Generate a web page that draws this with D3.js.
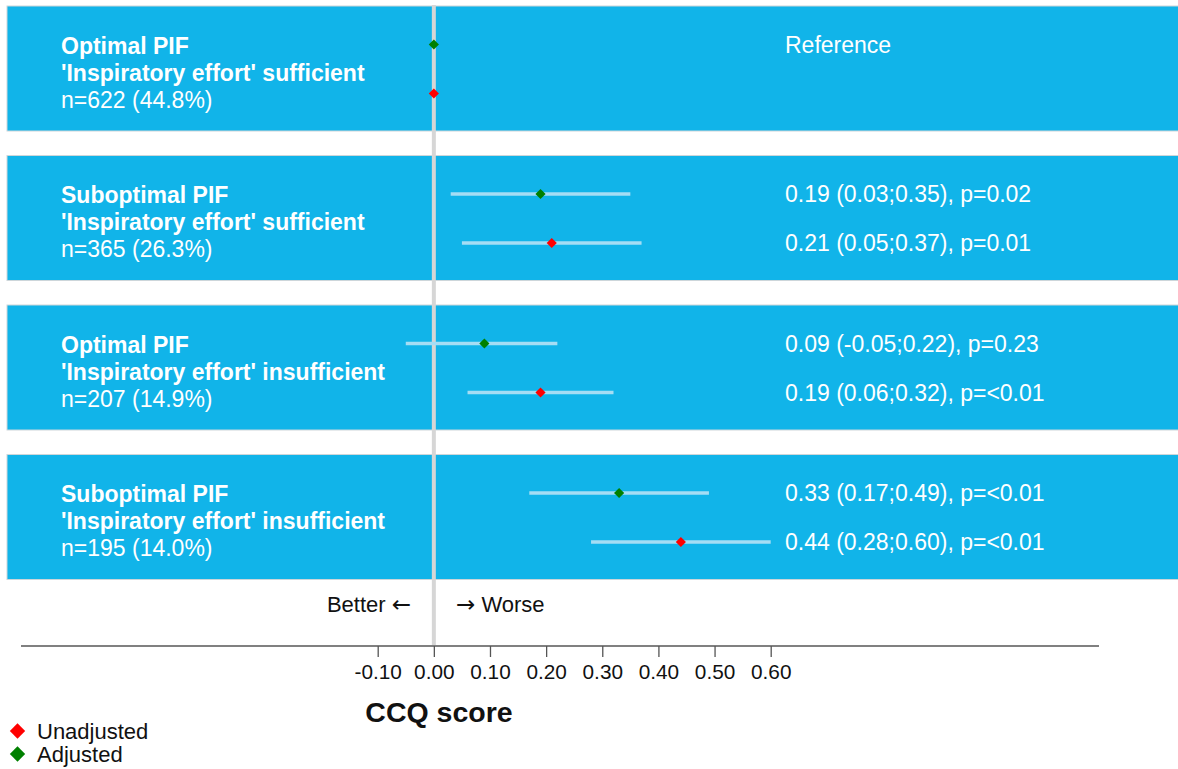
<!DOCTYPE html>
<html><head><meta charset="utf-8">
<script src="https://cdn.jsdelivr.net/npm/d3@7"></script>
<style>body{margin:0;background:#fff;} text{font-family:"Liberation Sans",Arial,Helvetica,sans-serif;}</style>
</head><body>
<svg id="c" width="1178" height="769"></svg>
<script>
const groups = ["g1","g2","g3","g4"];
const groupTitle1 = ["Optimal PIF","Suboptimal PIF","Optimal PIF","Suboptimal PIF"];
const groupTitle2 = ["'Inspiratory effort' sufficient","'Inspiratory effort' sufficient","'Inspiratory effort' insufficient","'Inspiratory effort' insufficient"];
const groupN = ["n=622 (44.8%)","n=365 (26.3%)","n=207 (14.9%)","n=195 (14.0%)"];
const adjEst = [0, 0.19, 0.09, 0.33];
const adjLo  = [null, 0.03, -0.05, 0.17];
const adjHi  = [null, 0.35, 0.22, 0.49];
const adjP   = [null, "0.02", "0.23", "<0.01"];
const unadjEst = [0, 0.21, 0.19, 0.44];
const unadjLo  = [null, 0.05, 0.06, 0.28];
const unadjHi  = [null, 0.37, 0.32, 0.60];
const unadjP   = [null, "0.01", "<0.01", "<0.01"];
const tickValues = [-0.10,0,0.10,0.20,0.30,0.40,0.50,0.60];
const axisTitle = "CCQ score";
const legendLabels = ["Unadjusted","Adjusted"];
const legendColors = ["#ff0000","#008000"];

const svg = d3.select("#c");
const x = d3.scaleLinear().domain([-0.1,0.6]).range([377.7,770.7]);
const y = d3.scaleBand().domain(groups).range([6,579.5]).paddingInner(24.5/149.5).paddingOuter(0);
const mid = g => y(g)+y.bandwidth()/2 + 0.5;
const fmt = v => v.toFixed(2);
const FS = 23;

// panels
svg.selectAll("rect.panel").data(groups).join("rect")
  .attr("x",7).attr("y",d=>y(d)).attr("width",1180).attr("height",y.bandwidth())
  .attr("fill","#11b4e9").attr("stroke","#cdd6da").attr("stroke-width",1);

// reference line
svg.append("line").attr("x1",x(0)).attr("x2",x(0)).attr("y1",5).attr("y2",645)
  .attr("stroke","#d6d6d6").attr("stroke-width",4);

const rows = [];
groups.forEach((g,i)=>{
  rows.push({g,i,kind:"adj",est:adjEst[i],lo:adjLo[i],hi:adjHi[i],p:adjP[i],col:legendColors[1],dy:-24.5});
  rows.push({g,i,kind:"un",est:unadjEst[i],lo:unadjLo[i],hi:unadjHi[i],p:unadjP[i],col:legendColors[0],dy:24.5});
});

// CI lines
svg.selectAll("line.ci").data(rows.filter(r=>r.lo!==null)).join("line")
  .attr("x1",d=>x(d.lo)).attr("x2",d=>x(d.hi))
  .attr("y1",d=>mid(d.g)+d.dy).attr("y2",d=>mid(d.g)+d.dy)
  .attr("stroke","#a5ddf4").attr("stroke-width",3.5);

// diamonds
const dia = d3.symbol().type(d3.symbolDiamond2).size(66);
svg.selectAll("path.pt").data(rows).join("path")
  .attr("d",dia)
  .attr("transform",d=>`translate(${x(d.est)},${mid(d.g)+d.dy})`)
  .attr("fill",d=>d.col);

// value texts
svg.selectAll("text.val").data(rows.filter(r=>r.lo!==null)).join("text")
  .attr("x",785).attr("y",d=>mid(d.g)+d.dy).attr("dy","0.35em")
  .attr("fill","#fff").attr("font-size",FS)
  .text(d=>`${fmt(d.est)} (${fmt(d.lo)};${fmt(d.hi)}), p=${d.p}`);
svg.append("text").attr("x",785).attr("y",mid(groups[0])-24.5).attr("dy","0.35em")
  .attr("fill","#fff").attr("font-size",FS).text("Reference");

// group labels
groups.forEach((g,i)=>{
  const m = mid(g);
  svg.append("text").attr("x",61).attr("y",m-23.5).attr("dy","0.35em").attr("fill","#fff")
    .attr("font-size",FS).attr("font-weight","bold").text(groupTitle1[i]);
  svg.append("text").attr("x",61).attr("y",m+3.5).attr("dy","0.35em").attr("fill","#fff")
    .attr("font-size",FS).attr("font-weight","bold").text(groupTitle2[i]);
  svg.append("text").attr("x",61).attr("y",m+30.5).attr("dy","0.35em").attr("fill","#fff")
    .attr("font-size",FS).text(groupN[i]);
});

// Better / Worse
const bt = svg.append("text").attr("x",411).attr("y",604).attr("dy","0.35em").attr("text-anchor","end")
  .attr("font-size",22).attr("fill","#111");
bt.append("tspan").text("Better ");
bt.append("tspan").attr("font-family","DejaVu Sans").attr("font-size",23).text("\u2190");
const wt = svg.append("text").attr("x",456).attr("y",604).attr("dy","0.35em")
  .attr("font-size",22).attr("fill","#111");
wt.append("tspan").attr("font-family","DejaVu Sans").attr("font-size",23).text("\u2192");
wt.append("tspan").text(" Worse");

// axis
svg.append("line").attr("x1",21).attr("x2",1099).attr("y1",646).attr("y2",646)
  .attr("stroke","#808080").attr("stroke-width",2);
const ax = svg.append("g").attr("transform","translate(0,646)")
  .call(d3.axisBottom(x).tickValues(tickValues).tickFormat(fmt).tickSize(11).tickPadding(7));
ax.select(".domain").remove();
ax.selectAll(".tick line").attr("stroke","#555").attr("stroke-width",1.3);
ax.selectAll(".tick text").attr("font-size",20.8).attr("fill","#111")
  .attr("font-family","Liberation Sans, Arial, sans-serif");

svg.append("text").attr("x",439).attr("y",712).attr("dy","0.35em").attr("text-anchor","middle")
  .attr("font-size",28.5).attr("font-weight","bold").attr("fill","#111").text(axisTitle);

// legend
const dia2 = d3.symbol().type(d3.symbolDiamond2).size(150);
legendLabels.forEach((l,i)=>{
  const ly = 731 + i*23;
  svg.append("path").attr("d",dia2).attr("transform",`translate(17.5,${ly})`).attr("fill",legendColors[i]);
  svg.append("text").attr("x",37).attr("y",ly).attr("dy","0.35em").attr("font-size",22)
    .attr("fill","#111").text(l);
});
</script>
</body></html>
